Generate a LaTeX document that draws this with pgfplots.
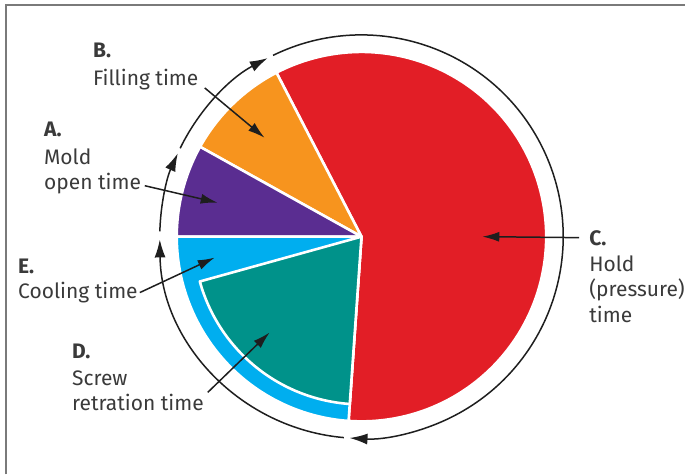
\documentclass[border=0pt]{standalone}
\usepackage{pgfplots}
\pgfplotsset{compat=1.18}
\usepackage{fontspec}
\setmainfont{Fira Sans}
\usetikzlibrary{arrows.meta}

\definecolor{holdred}{HTML}{E21E26}
\definecolor{fillorange}{HTML}{F7941E}
\definecolor{moldpurple}{HTML}{5A2D91}
\definecolor{coolcyan}{HTML}{00AEEF}
\definecolor{screwteal}{HTML}{00928A}
\definecolor{labelgray}{HTML}{3A3A3A}
\definecolor{framegray}{HTML}{7A7A7A}
\definecolor{ringblack}{HTML}{1E1E1E}

\begin{document}
\begin{tikzpicture}[
  lbl/.style={anchor=base west, inner sep=0pt, text=labelgray, font=\fontsize{21bp}{25bp}\selectfont},
  slice/.style={draw=white, line width=2.6bp, line join=round, samples=120},
  ring/.style={ringblack, line width=1.5bp, -{Latex[length=18bp,width=11bp]}},
  pointer/.style={ringblack, line width=1.5bp, -{Latex[length=17bp,width=10bp]}},
]
\begin{axis}[
  scale only axis, width=686bp, height=475bp,
  xmin=0, xmax=686, ymin=0, ymax=475,
  hide axis, clip=false,
]
\fill[white] (0,0) rectangle (686,475);
\draw[framegray, line width=2bp] (6.5,0) -- (6.5,470) -- (686,470);

% cycle segments, centre (362,238), radius 185 (angles in degrees)
% C. Hold (pressure) time
\addplot[slice, fill=holdred, domain=-94:117.4] ({362+185*cos(x)},{238+185*sin(x)}) -- (362,238) -- cycle;
% B. Filling time
\addplot[slice, fill=fillorange, domain=117.4:150.9] ({362+185*cos(x)},{238+185*sin(x)}) -- (362,238) -- cycle;
% A. Mold open time
\addplot[slice, fill=moldpurple, domain=150.9:180] ({362+185*cos(x)},{238+185*sin(x)}) -- (362,238) -- cycle;
% E. Cooling time
\addplot[slice, fill=coolcyan, domain=180:266] ({362+185*cos(x)},{238+185*sin(x)}) -- (362,238) -- cycle;
% D. Screw retraction, inside the cooling period
\addplot[slice, fill=screwteal, domain=195.5:266] ({362+168*cos(x)},{238+168*sin(x)}) -- (362,238) -- cycle;

% outer ring showing the direction of the cycle (1 axis unit = 1bp)
\draw[ring] ({362+202*cos(116)},{238+202*sin(116)}) arc[start angle=116, end angle=-93.4, radius=202bp];
\draw[ring] ({362+202*cos(-95)},{238+202*sin(-95)}) arc[start angle=-95, end angle=-179.2, radius=202bp];
\draw[ring] ({362+202*cos(178.5)},{238+202*sin(178.5)}) arc[start angle=178.5, end angle=155.6, radius=202bp];
\draw[ring] ({362+202*cos(154)},{238+202*sin(154)}) arc[start angle=154, end angle=117.7, radius=202bp];

% callout arrows
\draw[pointer] (205,387) -- (265,337);
\draw[pointer] (145,289) -- (218,272);
\draw[pointer] (140,182) -- (215,217);
\draw[pointer] (208,82) -- (270,142);
\draw[pointer] (580,237) -- (483,238);

% labels
\node[lbl] at (93,417) {\bfseries B.};
\node[lbl] at (93,389) {Filling time};
\node[lbl] at (44,338) {\bfseries A.};
\node[lbl] at (44,310) {Mold};
\node[lbl] at (44,285) {open time};
\node[lbl] at (18,201) {\bfseries E.};
\node[lbl] at (18,176) {Cooling time};
\node[lbl] at (72,116) {\bfseries D.};
\node[lbl] at (72,89) {Screw};
\node[lbl] at (72,64) {retration time};
\node[lbl] at (590,229) {\bfseries C.};
\node[lbl] at (590,203) {Hold};
\node[lbl] at (590,178) {(pressure)};
\node[lbl] at (590,152) {time};
\end{axis}
\end{tikzpicture}
\end{document}
